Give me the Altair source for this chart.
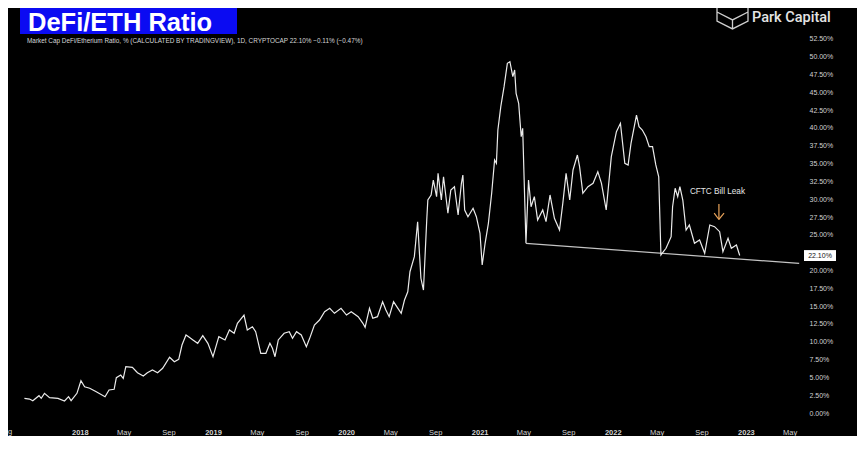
import altair as alt
import pandas as pd

# ---------------- data ----------------
dates = [
    "2017-08-02", "2017-08-16", "2017-08-25", "2017-09-11", "2017-09-17", "2017-09-26",
    "2017-10-10", "2017-11-02", "2017-11-20", "2017-12-01", "2017-12-08", "2017-12-24",
    "2018-01-04", "2018-01-14", "2018-01-28", "2018-02-15", "2018-03-11", "2018-03-22",
    "2018-04-05", "2018-04-11", "2018-04-23", "2018-04-30", "2018-05-07", "2018-05-25",
    "2018-06-08", "2018-06-24", "2018-07-05", "2018-07-19", "2018-08-02", "2018-08-16",
    "2018-09-04", "2018-09-17", "2018-09-29", "2018-10-08", "2018-10-19", "2018-10-28",
    "2018-11-07", "2018-11-20", "2018-12-04", "2018-12-18", "2019-01-01", "2019-01-17",
    "2019-02-03", "2019-02-15", "2019-02-28", "2019-03-09", "2019-03-27", "2019-04-05",
    "2019-04-19", "2019-04-28", "2019-05-12", "2019-05-26", "2019-06-06", "2019-06-13",
    "2019-06-20", "2019-06-29", "2019-07-15", "2019-07-29", "2019-08-07", "2019-08-18",
    "2019-08-31", "2019-09-14", "2019-09-23", "2019-10-06", "2019-10-20", "2019-11-03",
    "2019-11-17", "2019-11-30", "2019-12-18", "2020-01-02", "2020-01-15", "2020-02-03",
    "2020-02-16", "2020-02-22", "2020-03-05", "2020-03-14", "2020-03-27", "2020-04-10",
    "2020-04-19", "2020-04-28", "2020-05-10", "2020-05-22", "2020-05-31", "2020-06-09",
    "2020-06-18", "2020-06-24", "2020-07-06", "2020-07-15", "2020-07-24", "2020-07-31",
    "2020-08-09", "2020-08-12", "2020-08-21", "2020-08-27", "2020-09-05", "2020-09-09",
    "2020-09-18", "2020-09-24", "2020-10-06", "2020-10-14", "2020-10-24", "2020-11-03",
    "2020-11-12", "2020-11-16", "2020-11-21", "2020-11-30", "2020-12-14", "2020-12-23",
    "2021-01-02", "2021-01-08", "2021-01-16", "2021-01-25", "2021-02-03", "2021-02-11",
    "2021-02-16", "2021-02-20", "2021-02-28", "2021-03-09", "2021-03-18", "2021-03-25",
    "2021-04-02", "2021-04-07", "2021-04-11", "2021-04-18", "2021-04-25", "2021-04-29",
    "2021-05-08", "2021-05-15", "2021-05-22", "2021-05-31", "2021-06-09", "2021-06-23",
    "2021-07-02", "2021-07-13", "2021-07-25", "2021-08-08", "2021-08-17", "2021-08-26",
    "2021-09-05", "2021-09-14", "2021-09-26", "2021-10-02", "2021-10-11", "2021-10-25",
    "2021-11-08", "2021-11-21", "2021-12-01", "2021-12-14", "2021-12-28", "2022-01-11",
    "2022-01-22", "2022-02-03", "2022-02-12", "2022-02-20", "2022-03-07", "2022-03-14",
    "2022-03-23", "2022-04-02", "2022-04-11", "2022-04-20", "2022-04-29", "2022-05-07",
    "2022-05-13", "2022-05-27", "2022-06-10", "2022-06-14", "2022-06-21", "2022-06-28",
    "2022-07-04", "2022-07-12", "2022-07-21", "2022-07-30", "2022-08-13", "2022-08-27",
    "2022-09-10", "2022-09-24", "2022-10-07", "2022-10-21", "2022-10-30", "2022-11-13",
    "2022-11-22", "2022-12-06", "2022-12-15",
]
values = [
    2.06, 1.96, 1.73, 2.43, 2.06, 2.76,
    2.15, 2.06, 1.68, 2.29, 1.73, 2.76,
    4.53, 3.69, 3.47, 2.99, 2.29, 3.23,
    3.33, 4.95, 5.33, 4.87, 6.50, 6.41,
    5.66, 5.19, 5.66, 6.04, 5.66, 6.27,
    7.82, 7.20, 7.54, 9.54, 10.95, 10.62,
    10.25, 9.78, 10.85, 9.78, 7.90, 10.71,
    10.25, 11.65, 11.19, 12.59, 13.75, 11.65,
    12.11, 11.41, 8.38, 8.38, 9.78, 9.08,
    7.90, 10.25, 11.19, 11.41, 10.48, 11.41,
    10.95, 9.31, 10.48, 12.35, 13.05, 14.22,
    14.69, 13.99, 14.69, 13.75, 14.22, 13.52,
    12.59, 12.03, 14.69, 13.29, 13.52, 15.62,
    14.46, 13.52, 15.62, 14.69, 13.99, 15.86,
    17.02, 19.83, 21.94, 26.85, 18.91, 17.26,
    27.09, 29.89, 30.60, 32.70, 30.36, 33.64,
    29.89, 33.16, 28.03, 31.30, 31.76, 27.79,
    32.24, 33.40, 28.49, 27.55, 28.73, 27.55,
    25.22, 20.77, 23.82, 26.62, 30.84, 35.51,
    35.05, 39.72, 42.99, 45.80, 49.08, 49.31,
    47.20, 48.14, 44.87, 43.47, 38.78, 39.96,
    23.82, 32.70, 28.95, 30.36, 27.09, 28.49,
    26.85, 30.60, 27.33, 25.68, 29.43, 33.64,
    29.89, 34.11, 36.21, 34.57, 30.84, 31.76,
    32.24, 33.87, 32.24, 28.49, 35.97, 39.48,
    40.66, 35.05, 34.81, 37.85, 41.82, 40.18,
    39.72, 38.78, 37.38, 37.38, 34.81, 33.16,
    22.18, 23.12, 24.74, 28.95, 31.54, 30.36,
    31.76, 29.89, 25.68, 26.39, 23.82, 24.28,
    22.41, 26.39, 26.15, 25.45, 22.64, 24.52,
    23.12, 23.58, 22.10,
]

trend_dates = ["2021-05-08", "2023-05-27"]
trend_values = [23.82, 21.0]

y_ticks = [0, 2.5, 5, 7.5, 10, 12.5, 15, 17.5, 20, 25, 27.5, 30, 32.5,
           35, 37.5, 40, 42.5, 45, 47.5, 50, 52.5]
x_tick_dates = ["2018-01-01", "2018-05-01", "2018-09-01", "2019-01-01", "2019-05-01",
                "2019-09-01", "2020-01-01", "2020-05-01", "2020-09-01", "2021-01-01",
                "2021-05-01", "2021-09-01", "2022-01-01", "2022-05-01", "2022-09-01",
                "2023-01-01", "2023-05-01"]
x_domain_dates = ["2017-06-18", "2023-06-12"]
y_domain = [-1.263, 54.877]

last_value = 22.10
last_label = "22.10%"
title_text = "DeFi/ETH Ratio"
header_text = ("Market Cap DeFi/Etherium Ratio, % (CALCULATED BY TRADINGVIEW), 1D, "
               "CRYPTOCAP  22.10%  \u22120.11% (\u22120.47%)")
logo_text = "Park Capital"
annotation = {"date": "2022-10-15", "value": 30.95, "label": "CFTC Bill Leak"}
arrow_rows = [
    {"date": "2022-10-19", "value": 29.33, "date2": "2022-10-19", "value2": 27.16},
    {"date": "2022-10-06", "value": 28.05, "date2": "2022-10-19", "value2": 27.16},
    {"date": "2022-11-02", "value": 28.05, "date2": "2022-10-19", "value2": 27.16},
]
cut_label = "g"

# ---------------- helpers ----------------
def ms(d):
    return int(pd.Timestamp(d).value // 10**6)

LABEL_COLOR = "#d2d2d2"
FONT = "Liberation Sans"

x_scale = alt.Scale(type="utc", domain=[ms(d) for d in x_domain_dates])
y_scale = alt.Scale(domain=y_domain, nice=False, zero=False)

x_axis = alt.Axis(
    values=[ms(d) for d in x_tick_dates],
    labelExpr="utcmonth(datum.value) == 0 ? utcFormat(datum.value, '%Y') : utcFormat(datum.value, '%b')",
    labelFontWeight={"condition": {"test": "utcmonth(datum.value) == 0", "value": "bold"},
                     "value": "normal"},
    labelColor=LABEL_COLOR, labelFontSize=7.5, labelFont=FONT, labelPadding=6,
    labelFlush=False, labelOverlap=False, ticks=False, domain=False, grid=False, title=None,
)
y_axis = alt.Axis(
    orient="right", values=y_ticks,
    labelExpr="format(datum.value, '.2f') + '%'",
    labelColor=LABEL_COLOR, labelFontSize=7, labelFont=FONT, labelPadding=4,
    ticks=False, domain=False, grid=False, title=None,
)

def X(field="date"):
    return alt.X(field, type="temporal", scale=x_scale, axis=x_axis)

def Y(field="value"):
    return alt.Y(field, type="quantitative", scale=y_scale, axis=y_axis)

main_df = pd.DataFrame({"date": dates, "value": values})
trend_df = pd.DataFrame({"date": trend_dates, "value": trend_values})

line = alt.Chart(main_df).mark_line(color="#ebebeb", strokeWidth=1.2).encode(x=X(), y=Y())
trend = alt.Chart(trend_df).mark_line(color="#c4c4c4", strokeWidth=1.2).encode(x=X(), y=Y())

ann_text = alt.Chart(alt.Data(values=[annotation])).mark_text(
    color="#e6e6e6", fontSize=8.2, font=FONT, baseline="middle"
).encode(x=X(), y=Y(), text="label:N")

arrow = alt.Chart(alt.Data(values=arrow_rows)).mark_rule(
    color="#e9a35a", strokeWidth=1.2
).encode(x=X(), y=Y(), x2="date2:T", y2="value2:Q")

price_box = alt.Chart(alt.Data(values=[{"value": last_value}])).mark_point(
    shape="M-1,-0.34H1V0.34H-1Z", filled=True, size=1024, color="#ffffff", opacity=1
).encode(x=alt.value(812), y=Y())
price_text = alt.Chart(alt.Data(values=[{"value": last_value, "label": last_label}])).mark_text(
    color="#111111", fontSize=7, font=FONT, baseline="middle"
).encode(x=alt.value(812), y=Y(), text="label:N")

header = alt.Chart(alt.Data(values=[{"label": header_text}])).mark_text(
    color="#d6d6d6", fontSize=6.4, font=FONT, align="left", baseline="middle"
).encode(x=alt.value(19), y=alt.value(19), text="label:N")

title_box = alt.Chart(alt.Data(values=[{"label": title_text}])).mark_rect(
    color="#0b0bf2"
).encode(x=alt.value(12), x2=alt.value(229), y=alt.value(-14), y2=alt.value(12))
title = alt.Chart(alt.Data(values=[{"label": title_text}])).mark_text(
    color="#ffffff", fontSize=25.5, fontWeight="bold", font=FONT, align="left", baseline="alphabetic"
).encode(x=alt.value(20), y=alt.value(9), text="label:N")

logo = alt.Chart(alt.Data(values=[{"label": logo_text}])).mark_text(
    color="#e4e4e4", fontSize=14.5, fontWeight=500, font="Roboto", align="left", baseline="alphabetic"
).encode(x=alt.value(744), y=alt.value(0), text="label:N")
logo_icon = alt.Chart(alt.Data(values=[{"label": "icon"}])).mark_point(
    shape="M-1,-1L-1,0.26L0,0.77L1,0.26L1,-1M-1,-0.32L0,0.19L1,-0.32M0,0.19L0,0.77",
    filled=False, size=961, strokeWidth=1.3, color="#cfcfcf", opacity=1
).encode(x=alt.value(724.5), y=alt.value(-5))

cut = alt.Chart(alt.Data(values=[{"label": cut_label}])).mark_text(
    color=LABEL_COLOR, fontSize=7.5, font=FONT, baseline="middle"
).encode(x=alt.value(2), y=alt.value(410), text="label:N")

chart = alt.layer(
    trend, line, ann_text, arrow, price_box, price_text, header,
    title_box, title, logo, logo_icon, cut
).properties(
    width=797, height=400,
    padding={"left": 0, "top": 14, "right": 52, "bottom": 14},
    autosize=alt.AutoSizeParams(type="none"),
).configure(background="#000000").configure_view(strokeWidth=0)

chart.save("out.html", embed_options={"renderer": "svg", "actions": False})
